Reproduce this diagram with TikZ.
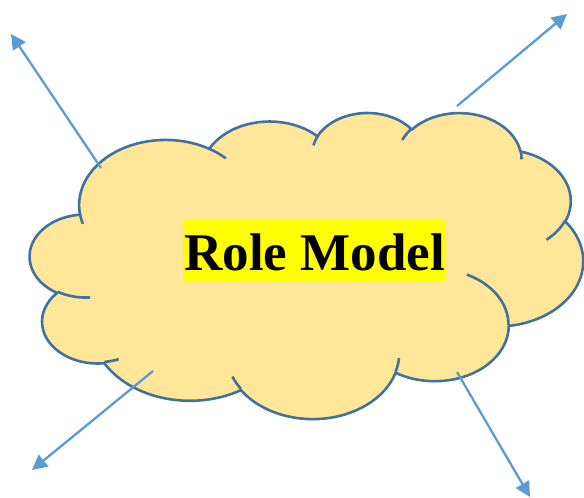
\documentclass[tikz,border=0pt]{standalone}
\usepackage{fontspec}
\setmainfont{Liberation Serif}
\usetikzlibrary{arrows.meta}
\definecolor{cloudfill}{HTML}{FFE699}
\definecolor{cloudline}{HTML}{41719C}
\definecolor{arrowblue}{HTML}{5B9BD5}
\definecolor{hilite}{HTML}{FFFF00}
% Office-style elliptical arc: radii, visual start angle, visual sweep
\newcommand\oarc[4]{arc[x radius=#1, y radius=#2, start angle={atan2((#1)*sin(#3),(#2)*cos(#3))}, delta angle={mod(atan2((#1)*sin((#3)+(#4)),(#2)*cos((#3)+(#4)))-atan2((#1)*sin(#3),(#2)*cos(#3))+720,360)}]}
\tikzset{
  cloudbody/.style={fill=cloudfill, draw=cloudline, line width=2.6pt, line join=round},
  cloudhook/.style={draw=cloudline, line width=2.6pt},
  rayarrow/.style={draw=arrowblue, line width=2.3pt, -{Triangle[length=15pt,width=15pt]}},
  titlebox/.style={fill=hilite, inner xsep=1.5pt, inner ysep=0pt, text height=50pt, text depth=11.7pt, anchor=base, font=\fontsize{53}{60}\selectfont\bfseries}
}
\begin{document}
\begin{tikzpicture}[x=1pt,y=-1pt]
\useasboundingbox (0,0) rectangle (584,498);
\begin{scope}[shift={(30,112)}, xscale=1.28009, yscale=0.70833]
\path[cloudbody] (39.00,143.70)
  \oarc{67.53}{91.90}{-190.4874833}{123.7805333}
  \oarc{53.33}{72.67}{-144.1023833}{89.9452333}
  \oarc{43.65}{59.45}{-145.8079167}{99.7230167}
  \oarc{48.57}{65.95}{-130.9860667}{117.2417333}
  \oarc{53.33}{72.73}{-78.7088833}{109.0269167}
  \oarc{67.75}{92.20}{-46.26725}{130.269}
  \oarc{57.85}{78.67}{0.6250167}{114.0333333}
  \oarc{67.52}{92.15}{22.4516}{115.17255}
  \oarc{77.20}{105.43}{66.2426333}{75.7110167}
  \oarc{43.60}{59.18}{-274.9420833}{146.7355667}
  \oarc{43.45}{59.45}{-246.8285}{152.51885}
  -- cycle;
\draw[cloudhook] (46.93,261.77) \oarc{43.45}{59.45}{86.742}{26.4295};
\draw[cloudhook] (69.28,348.99) \oarc{43.60}{59.18}{73.61047}{11.44747};
\draw[cloudhook] (164.78,390.90) \oarc{67.52}{92.15}{137.62415}{14.0811};
\draw[cloudhook] (288.27,347.51) \oarc{67.52}{92.15}{6.45327}{15.99835};
\draw[cloudhook] (341.29,229.54) \oarc{57.85}{78.67}{-70.29235}{70.91737};
\draw[cloudhook] (417.98,153.54) \oarc{53.33}{72.73}{30.31803}{27.7515};
\draw[cloudhook] (383.24,54.26) \oarc{48.57}{65.95}{-13.74433}{14.8589};
\draw[cloudhook] (290.78,39.52) \oarc{48.57}{65.95}{-149.18145}{18.19537};
\draw[cloudhook] (221.41,47.20) \oarc{43.65}{59.45}{-163.49427}{17.83918};
\draw[cloudhook] (140.00,51.92) \oarc{67.53}{91.90}{-66.70695}{12.31935};
\draw[cloudhook] (41.27,157.89) \oarc{67.53}{91.90}{157.65435}{11.85817};
\end{scope}
\node[titlebox] (title) at (314.7,270) {Role Model};
\coordinate (tlS) at (101,168); \coordinate (tlE) at (11,34);
\coordinate (trS) at (457,106); \coordinate (trE) at (567,14);
\coordinate (blS) at (153,371); \coordinate (blE) at (32,470);
\coordinate (brS) at (457,372); \coordinate (brE) at (530,497);
\draw[rayarrow] (tlS) -- (tlE);
\draw[rayarrow] (trS) -- (trE);
\draw[rayarrow] (blS) -- (blE);
\draw[rayarrow] (brS) -- (brE);
\end{tikzpicture}
\end{document}
